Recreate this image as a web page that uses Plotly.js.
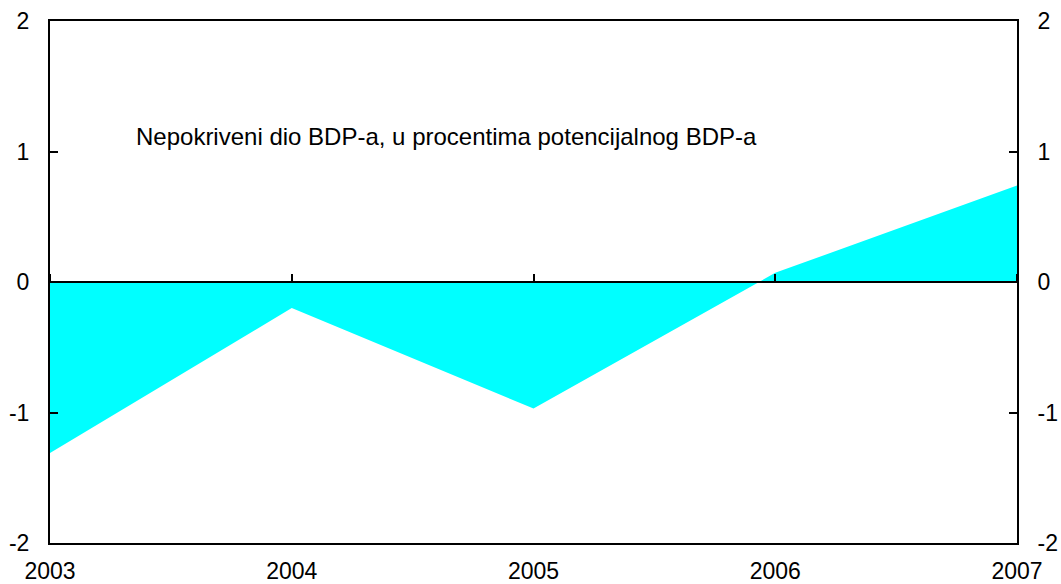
<!DOCTYPE html>
<html>
<head>
<meta charset="utf-8">
<script src="https://cdn.plot.ly/plotly-3.0.1.min.js"></script>
<style>html,body{margin:0;padding:0;background:#fff;}#chart{width:1061px;height:584px;}</style>
</head>
<body>
<div id="chart"></div>
<script>
const years = [2003, 2004, 2005, 2006, 2007];
const gap = [-1.31, -0.2, -0.97, 0.07, 0.74];
const yTicks = [-2, -1, 0, 1, 2];
const label = "Nepokriveni dio BDP-a, u procentima potencijalnog BDP-a";

const font = {family: "Liberation Sans, Arial, sans-serif", size: 23, color: "#000"};
const annFont = {family: "Liberation Sans, Arial, sans-serif", size: 24, color: "#000"};

const traces = [
  {x: years, y: gap, type: "scatter", mode: "lines", fill: "tozeroy",
   fillcolor: "#00FFFF", line: {width: 0, color: "#00FFFF"}, hoverinfo: "skip",
   xaxis: "x", yaxis: "y"},
  {x: years, y: gap, type: "scatter", mode: "lines", line: {width: 0},
   opacity: 0, hoverinfo: "skip", xaxis: "x2", yaxis: "y"},
  {x: years, y: gap, type: "scatter", mode: "lines", line: {width: 0},
   opacity: 0, hoverinfo: "skip", xaxis: "x", yaxis: "y2"}
];

const layout = {
  width: 1061, height: 584,
  margin: {l: 50, r: 44, t: 21, b: 41},
  paper_bgcolor: "#fff", plot_bgcolor: "#fff",
  showlegend: false,
  font: font,
  xaxis: {range: [2003, 2007], tickvals: years, ticktext: years.map(String),
    showgrid: false, zeroline: false, showline: true, linecolor: "#000", linewidth: 2,
    mirror: true, ticks: "", ticklabelstandoff: 6, tickfont: font},
  xaxis2: {range: [2003, 2007], tickvals: years, overlaying: "x", anchor: "free",
    position: 0.5, side: "top", ticks: "outside", ticklen: 8, tickwidth: 2, tickcolor: "#000",
    showticklabels: false, showgrid: false, zeroline: false, showline: false},
  yaxis: {range: [-2, 2], tickvals: yTicks, ticktext: yTicks.map(String),
    showgrid: false, zeroline: false, showline: true, linecolor: "#000", linewidth: 2,
    ticks: "inside", ticklen: 8, tickwidth: 2, tickcolor: "#000", ticklabelstandoff: 14, tickfont: font},
  yaxis2: {range: [-2, 2], tickvals: yTicks, ticktext: yTicks.map(String), overlaying: "y",
    side: "right", showgrid: false, zeroline: false, showline: true, linecolor: "#000", linewidth: 2,
    ticks: "inside", ticklen: 8, tickwidth: 2, tickcolor: "#000", ticklabelstandoff: 14, tickfont: font},
  shapes: [
    {type: "line", xref: "paper", yref: "y", x0: 0, x1: 1, y0: 0, y1: 0,
     line: {color: "#000", width: 2}, layer: "above"}
  ],
  annotations: [
    {text: label, xref: "paper", yref: "paper", x: 0.087, y: 0.778,
     xanchor: "left", yanchor: "middle", showarrow: false, font: annFont}
  ]
};

Plotly.newPlot("chart", traces, layout, {displayModeBar: false, staticPlot: true});
</script>
</body>
</html>
